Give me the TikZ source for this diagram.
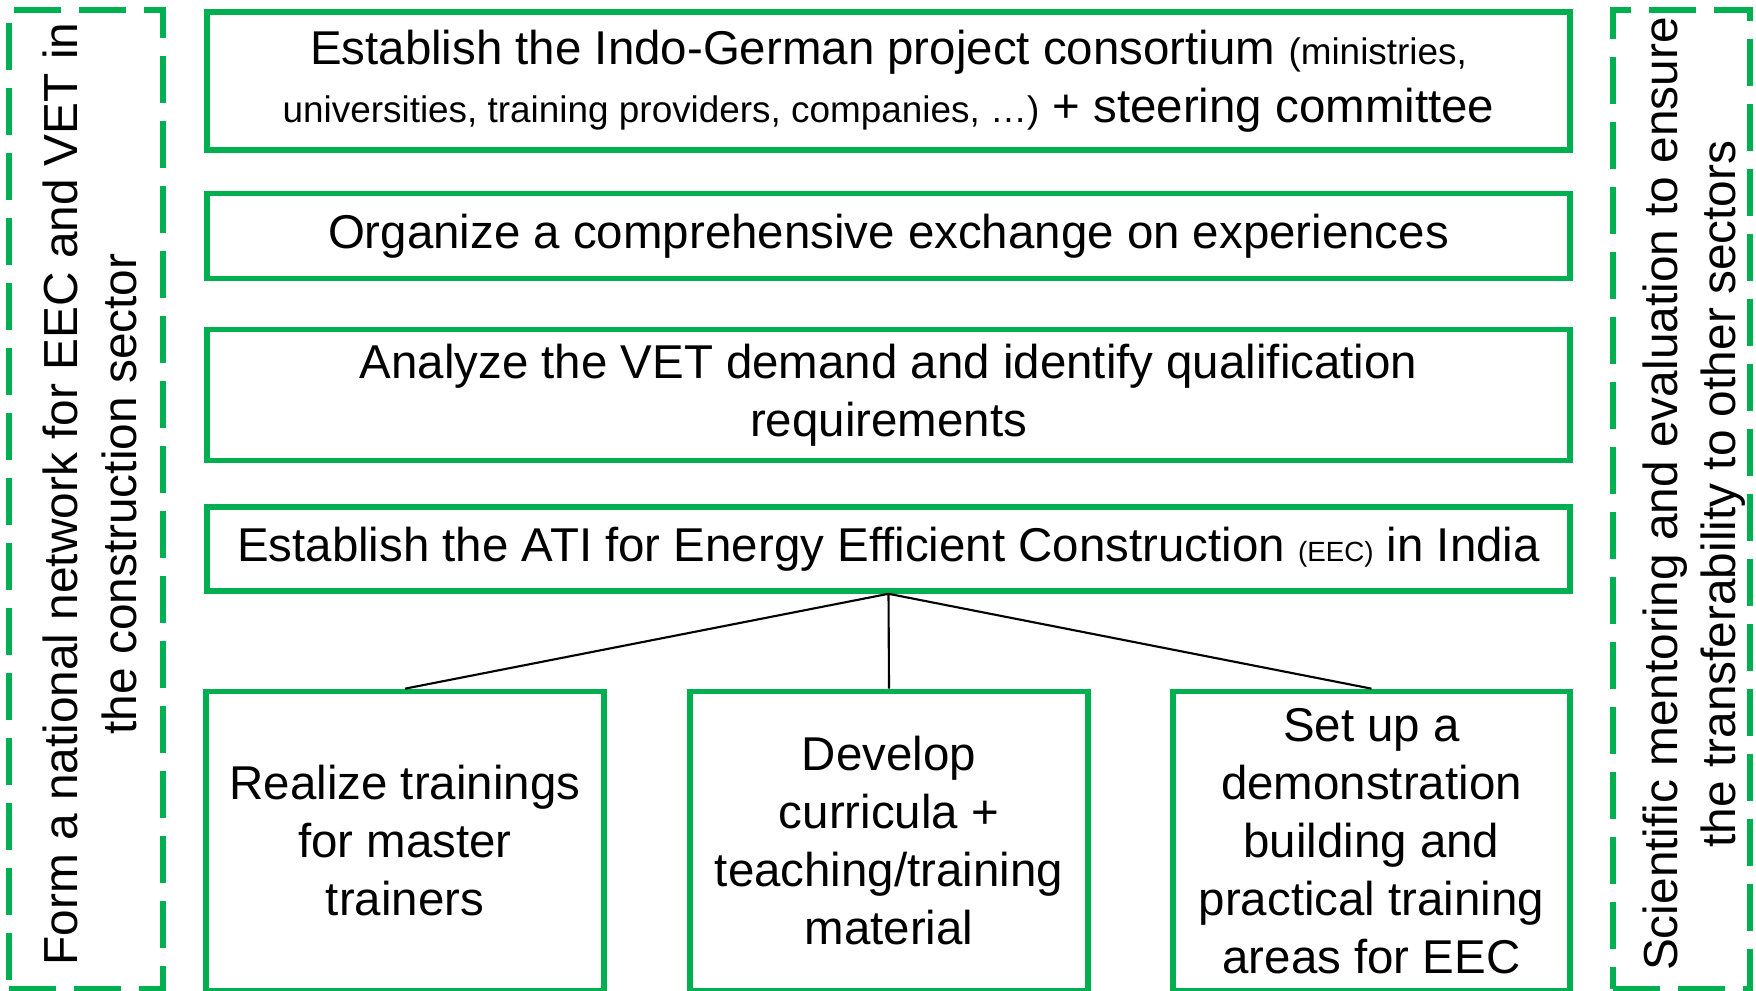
\documentclass[tikz,border=0pt]{standalone}
\usepackage{fontspec}
\setmainfont{Liberation Sans}
\usetikzlibrary{positioning}
\definecolor{boxgreen}{RGB}{0,176,80}

\tikzset{
  stepbox/.style={draw=boxgreen, line width=1.6pt, align=center, inner sep=0pt,
    font=\fontsize{13.5}{16.5}\selectfont},
  sidebox/.style={draw=boxgreen, line width=1.6pt, dash pattern=on 0.47cm off 0.18cm},
  sidetext/.style={rotate=90, align=center, font=\fontsize{13.6}{16.6}\selectfont},
  link/.style={line width=0.6pt, black}
}

\begin{document}
\begin{tikzpicture}
    \useasboundingbox (0,0) rectangle (17.56,9.91);

    % === Seitenkaesten ===
    \node[sidebox, minimum width=1.54cm, minimum height=9.79cm] (left) at (0.86,4.915) {};
    \node[sidetext] (lefttext) at (0.90,4.97) {Form a national network for EEC and VET in\\the construction sector};
    \node[sidebox, minimum width=1.37cm, minimum height=9.79cm] (right) at (16.815,4.915) {};
    \node[sidetext] (righttext) at (16.94,4.97) {Scientific mentoring and evaluation to ensure\\the transferability to other sectors};

    % === Schritte ===
    \node[stepbox, minimum width=13.63cm, minimum height=1.38cm] (consortium) at (8.885,9.10)
        {Establish the Indo-German project consortium {\fontsize{10.5}{12}\selectfont(ministries,}\\
         {\fontsize{10.5}{12}\selectfont universities, training providers, companies, …)} + steering committee};
    \node[stepbox, minimum width=13.63cm, minimum height=0.85cm] (exchange) at (8.885,7.55)
        {Organize a comprehensive exchange on experiences};
    \node[stepbox, minimum width=13.63cm, minimum height=1.31cm] (demand) at (8.885,5.96)
        {Analyze the VET demand and identify qualification\\requirements};
    \node[stepbox, minimum width=13.63cm, minimum height=0.84cm] (ati) at (8.885,4.42)
        {Establish the ATI for Energy Efficient Construction {\fontsize{7.9}{9}\selectfont(EEC)} in India};

    % Unterste Reihe
    \node[stepbox, minimum width=3.98cm, minimum height=2.99cm] (trainings) at (4.05,1.50)
        {Realize trainings\\for master\\trainers};
    \node[stepbox, minimum width=3.98cm, minimum height=2.99cm] (curricula) at (8.89,1.50)
        {Develop\\curricula +\\teaching/training\\material};
    \node[stepbox, minimum width=3.97cm, minimum height=2.99cm] (demo) at (13.715,1.50)
        {Set up a\\demonstration\\building and\\practical training\\areas for EEC};

    % Verbindungen
    \draw[link] (ati.south) -- (trainings.north);
    \draw[link] (ati.south) -- (curricula.north);
    \draw[link] (ati.south) -- (demo.north);
\end{tikzpicture}
\end{document}
